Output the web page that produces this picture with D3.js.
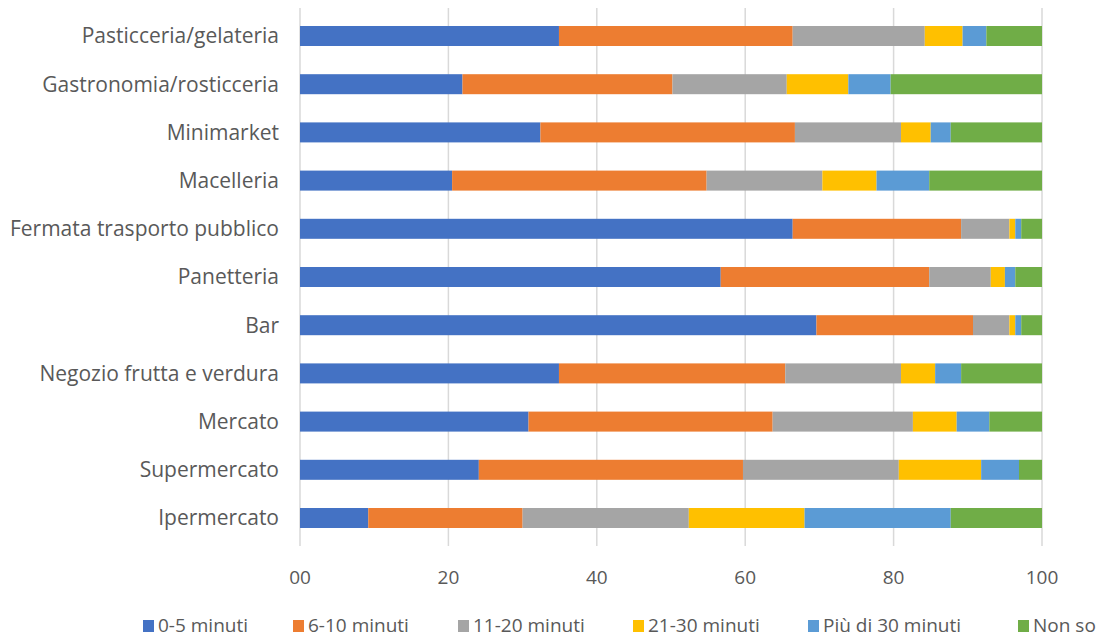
<!DOCTYPE html>
<html>
<head>
<meta charset="utf-8">
<script src="https://cdn.jsdelivr.net/npm/d3@7"></script>
<style>
  body { margin: 0; background: #fff; }
  text { font-family: "Open Sans", sans-serif; fill: #595959; }
</style>
</head>
<body>
<svg width="1100" height="637"></svg>
<script>
const categories = ["Pasticceria/gelateria", "Gastronomia/rosticceria", "Minimarket", "Macelleria",
  "Fermata trasporto pubblico", "Panetteria", "Bar", "Negozio frutta e verdura",
  "Mercato", "Supermercato", "Ipermercato"];
const seriesNames = ["0-5 minuti", "6-10 minuti", "11-20 minuti", "21-30 minuti", "Più di 30 minuti", "Non so"];
const colors = ["#4472C4", "#ED7D31", "#A5A5A5", "#FFC000", "#5B9BD5", "#70AD47"];

const min0_5   = [34.9, 21.9, 32.4, 20.5, 66.4, 56.7, 69.6, 34.9, 30.8, 24.1, 9.2];
const min6_10  = [31.5, 28.3, 34.3, 34.3, 22.7, 28.1, 21.1, 30.5, 32.9, 35.6, 20.8];
const min11_20 = [17.8, 15.4, 14.3, 15.6, 6.5, 8.3, 4.9, 15.6, 18.9, 21.0, 22.4];
const min21_30 = [5.1, 8.3, 4.0, 7.3, 0.8, 1.9, 0.8, 4.6, 5.9, 11.1, 15.6];
const oltre30  = [3.2, 5.7, 2.7, 7.1, 0.8, 1.4, 0.8, 3.5, 4.4, 5.1, 19.7];
const nonSo    = [7.5, 20.4, 12.3, 15.2, 2.8, 3.6, 2.8, 10.9, 7.1, 3.1, 12.3];
const tickValues = [0, 20, 40, 60, 80, 100];
const tickLabels = ["00", "20", "40", "60", "80", "100"];

const seriesValues = [min0_5, min6_10, min11_20, min21_30, oltre30, nonSo];
const table = categories.map((c, i) => {
  const row = { cat: c };
  seriesNames.forEach((s, j) => row[s] = seriesValues[j][i]);
  return row;
});

const svg = d3.select("svg");

const x = d3.scaleLinear().domain([0, 100]).range([300, 1042]);
const y = d3.scaleBand().domain(categories).range([11.9, 542.1])
  .paddingInner(0.585).paddingOuter(0.2925);

// gridlines
svg.append("g").selectAll("line")
  .data(tickValues)
  .enter()
  .append("line")
  .attr("x1", d => x(d)).attr("x2", d => x(d))
  .attr("y1", 8).attr("y2", 546)
  .attr("stroke", "#d9d9d9")
  .attr("stroke-width", 1.5);

// tick labels
svg.append("g").selectAll("text")
  .data(tickValues)
  .enter()
  .append("text")
  .attr("x", d => x(d))
  .attr("y", 584)
  .attr("text-anchor", "middle")
  .style("font-size", "19px")
  .text((d, i) => tickLabels[i]);

const stacked = d3.stack().keys(seriesNames)(table);

svg.append("g").selectAll("g")
  .data(stacked)
  .enter()
  .append("g")
  .attr("fill", (d, i) => colors[i])
  .selectAll("rect")
  .data(d => d)
  .enter()
  .append("rect")
  .attr("x", d => x(d[0]))
  .attr("width", d => x(d[1]) - x(d[0]))
  .attr("y", d => y(d.data.cat))
  .attr("height", y.bandwidth());

// category labels
svg.append("g").selectAll("text")
  .data(categories)
  .enter()
  .append("text")
  .attr("x", 279)
  .attr("y", d => y(d) + y.bandwidth() / 2)
  .attr("dy", "0.35em")
  .attr("text-anchor", "end")
  .style("font-size", "21px")
  .text(d => d);

// legend
const legendX = [143, 293, 458, 633, 808, 1018];
const legend = svg.append("g").selectAll("g")
  .data(seriesNames)
  .enter()
  .append("g")
  .attr("transform", (d, i) => "translate(" + legendX[i] + ",620)");

legend.append("rect")
  .attr("width", 11).attr("height", 12)
  .attr("fill", (d, i) => colors[i]);

legend.append("text")
  .attr("x", 15)
  .attr("y", 6)
  .attr("dy", "0.33em")
  .style("font-size", "19px")
  .text(d => d);
</script>
</body>
</html>
